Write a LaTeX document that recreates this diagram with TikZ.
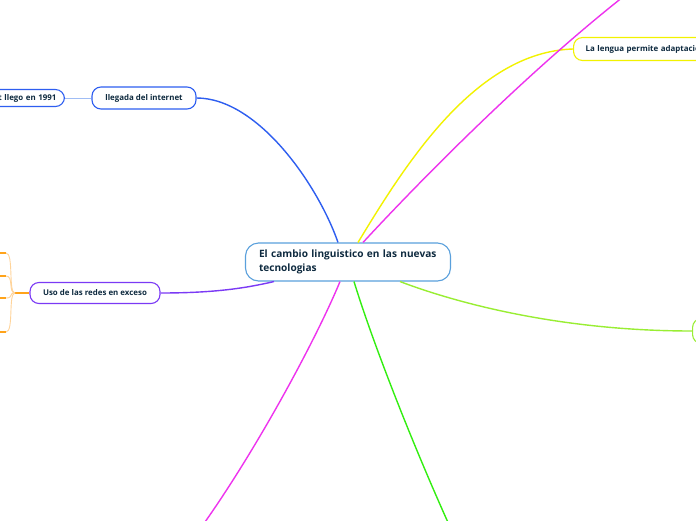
\documentclass[tikz,border=0pt]{standalone}
\usepackage{fontspec}
\setmainfont{Open Sans}
\usetikzlibrary{calc}
\definecolor{txt}{HTML}{0E2A3F}
\definecolor{cblue}{HTML}{5AA0DC}
\definecolor{lnblue}{HTML}{2E5EF0}
\definecolor{lblue}{HTML}{A0BDF5}
\definecolor{purp}{HTML}{7B3AF5}
\definecolor{orng}{HTML}{FFA31A}
\definecolor{lorng}{HTML}{FFD49A}
\definecolor{yell}{HTML}{F2F200}
\definecolor{magn}{HTML}{EE33EE}
\definecolor{grn}{HTML}{33EE11}
\definecolor{lgrn}{HTML}{99EE33}
\begin{document}
\begin{tikzpicture}[x=1pt,y=-1pt,
  topic/.style={draw, rounded corners=9pt, line width=1.1pt, fill=white,
    font=\bfseries\fontsize{7.9}{9}\selectfont, text=txt, inner sep=0pt,
    minimum height=22pt},
  central/.style={draw=cblue, rounded corners=13pt, line width=1.1pt, fill=white,
    font=\bfseries\fontsize{10.1}{14}\selectfont, text=txt, align=left,
    text width=184pt, inner xsep=10.5pt, inner ysep=0pt, minimum height=38pt},
  link/.style={line width=1.4pt},
  thin/.style={line width=0.9pt},
]
\useasboundingbox (0,0) rectangle (696,520);
\clip (0,0) rectangle (696,520);
\fill[white] (0,0) rectangle (696,520);

% nodes
\node[central] (c) at (348,262) {\hspace*{3pt}El cambio linguistico en las nuevas\\\hspace*{3pt}tecnologias};
\node[topic, draw=lnblue, minimum width=104pt] (lleg) at (144,98) {llegada del internet};
\node[topic, draw=lnblue, minimum height=17pt, anchor=east, text width=110pt, align=right, inner xsep=8pt] (l91) at (65,98) {Internet llego en 1991};
\node[topic, draw=purp, minimum width=130pt, minimum height=21pt] (uso) at (95,293) {Uso de las redes en exceso};
\node[topic, draw=yell, minimum width=160pt, minimum height=23pt, anchor=west, align=left, text width=140pt, inner xsep=12pt] (leng) at (573,49) {La lengua permite adaptacion};
\node[topic, draw=lgrn, minimum width=60pt, minimum height=25pt, anchor=west] (gr) at (692,331) {};

% free ends off the picture
\coordinate (m1) at (645,-20);
\coordinate (m2) at (192,540);
\coordinate (g2) at (456,540);
\coordinate (j) at (15,293);
\coordinate (o1) at (6,253);
\coordinate (o2) at (6,276);
\coordinate (o3) at (6,298);
\coordinate (o4) at (6,332);
\coordinate (o1w) at (-20,253);
\coordinate (o2w) at (-20,276);
\coordinate (o3w) at (-20,298);
\coordinate (o4w) at (-20,332);

% connectors
\draw[thin, lblue] (l91.east) -- (lleg.west);
\draw[link, lnblue] (lleg.east) .. controls (258,98) and (318,185) .. ($(c.north)+(-10,0)$);
\draw[link, yell] ($(c.north)+(10,0)$) .. controls (405,165) and (475,52) .. (leng.west);
\draw[link, magn] ($(c.north)+(15,0)$) .. controls (430,170) and (545,55) .. (m1);
\draw[link, magn] ($(c.south)+(-8,0)$) .. controls (315,342) and (250,462) .. (m2);
\draw[link, grn] ($(c.south)+(6,0)$) .. controls (375,350) and (420,462) .. (g2);
\draw[link, lgrn] ($(c.south)+(52,0)$) .. controls (462,305) and (565,331) .. (gr.west);
\draw[link, purp] (uso.east) .. controls (220,293) and (250,287) .. ($(c.south)+(-74,0)$);

% orange branch
\draw[link, orng] (j) -- (uso.west);
\foreach \o in {o1,o2,o3,o4}{
  \draw[thin, lorng] (\o) .. controls (14,0 |- \o) and (8,293) .. (j);
}
\draw[link, orng] (o1w) -- (o1);
\draw[link, orng] (o2w) -- (o2);
\draw[link, orng] (o3w) -- (o3);
\draw[link, orng] (o4w) -- (o4);
\end{tikzpicture}
\end{document}
